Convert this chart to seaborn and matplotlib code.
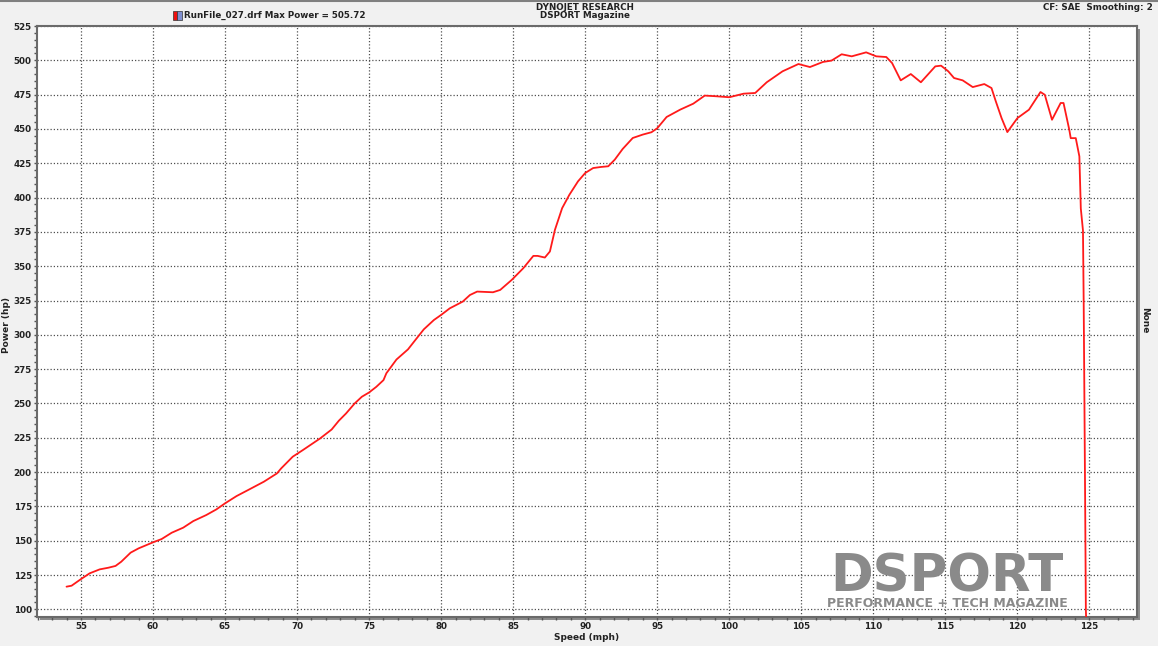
import numpy as np
import pandas as pd
import matplotlib
matplotlib.use("Agg")
import matplotlib.pyplot as plt
import seaborn as sns
from matplotlib.patches import Rectangle
from matplotlib.lines import Line2D
from matplotlib.ticker import MultipleLocator

speed_mph = [54.0, 54.35, 55.0, 55.6, 56.3, 56.9, 57.4, 57.8, 58.45, 59.0,
             60.0, 60.6, 61.3, 62.1, 62.8, 63.7, 64.4, 65.0, 65.8, 66.6,
             67.7, 68.6, 68.9, 69.7, 70.4, 71.6, 72.4, 72.9, 73.4, 74.0,
             74.5, 75.0, 75.5, 76.0, 76.2, 76.9, 77.7, 78.3, 78.8, 79.5,
             80.0, 80.6, 81.5, 82.0, 82.5, 83.6, 84.1, 84.9, 85.7, 86.4,
             86.7, 87.2, 87.55, 87.9, 88.4, 88.9, 89.5, 90.0, 90.55, 91.1,
             91.6, 92.05, 92.6, 93.3, 94.0, 94.6, 95.0, 95.65, 96.6, 97.5,
             98.3, 99.1, 100.0, 101.0, 101.8, 102.6, 103.7, 104.8, 105.6, 106.5,
             107.1, 107.8, 108.5, 109.5, 110.2, 110.9, 111.3, 111.9, 112.6, 113.3,
             114.3, 114.7, 115.2, 115.6, 116.2, 116.9, 117.7, 118.2, 118.5, 118.9,
             119.3, 120.0, 120.8, 121.6, 121.9, 122.4, 123.0, 123.2, 123.6, 123.7,
             124.05, 124.3, 124.4, 124.55, 124.6, 124.65, 124.7, 124.75, 124.78]
power_hp = [116.5, 117.2, 122, 126.2, 129.1, 130.3, 131.6, 134.7, 141.3, 144.4,
            148.8, 151.2, 155.8, 159.5, 164.3, 168.7, 172.8, 177.2, 182.5, 186.9,
            193, 199, 202.7, 211.2, 216, 224.5, 231, 237.4, 242.7, 250,
            254.9, 258, 262.1, 267, 272, 282, 289.4, 297.4, 304, 310.8,
            314.5, 319.3, 324.2, 329, 331.5, 331, 332.7, 340, 348.5, 357.5,
            357.5, 356.3, 360.7, 376.5, 392.3, 402, 411.8, 417.9, 421.5, 422.3,
            422.8, 427.6, 435.4, 443.4, 445.9, 447.6, 450.5, 458.7, 464.1, 468.4,
            474.3, 473.8, 473.1, 475.7, 476.2, 484, 492, 497.3, 495.1, 498.8,
            499.8, 504.4, 502.9, 505.8, 502.9, 502.4, 498, 485.4, 490, 484,
            495.6, 496.1, 492, 487.1, 485.4, 480.5, 482.7, 479.8, 470.1, 457.9,
            447.7, 457.9, 464, 476.9, 474.9, 456.7, 468.9, 468.9, 449.4, 443.3,
            443.3, 430, 392, 376, 323, 252, 180, 100, 90]

x_ticks = [55, 60, 65, 70, 75, 80, 85, 90, 95, 100, 105, 110, 115, 120, 125]
y_ticks = [100, 125, 150, 175, 200, 225, 250, 275, 300, 325, 350, 375, 400,
           425, 450, 475, 500, 525]

df = pd.DataFrame({"Speed (mph)": speed_mph, "Power (hp)": power_hp})

sns.set_theme(style="white")
plt.rcParams['font.family'] = ['DejaVu Sans']

W, H = 1158, 646
fig = plt.figure(figsize=(W / 100, H / 100), dpi=100, facecolor="#f1f1f1")
L, R, T, B = 37, 1137, 26, 617
ax = fig.add_axes([L / W, 1 - B / H, (R - L) / W, (B - T) / H])
ax.set_facecolor("white")

# shadow of the plot frame
shadow = Rectangle(((L + 3) / W, 1 - (B + 3) / H), (R - L) / W, (B - T) / H,
                   transform=fig.transFigure, facecolor="#8a8a8a",
                   edgecolor="none", zorder=-1)
fig.patches.append(shadow)
# header separator line
fig.add_artist(Line2D([0, 1], [1 - 1 / H, 1 - 1 / H], transform=fig.transFigure,
                      color="#808080", lw=1.5))

sns.lineplot(data=df, x="Speed (mph)", y="Power (hp)", ax=ax, sort=False,
             estimator=None, color="#ff1a1a", lw=1.3, zorder=5)

ax.set_xlim(51.95, 128.3)
ax.set_ylim(94.4, 525)
ax.set_xticks(x_ticks)
ax.set_yticks(y_ticks)
ax.xaxis.set_minor_locator(MultipleLocator(1))
ax.yaxis.set_minor_locator(MultipleLocator(5))
ax.grid(True, which="major", color="#505050", linestyle=(0, (1, 1.6)), lw=0.9)
ax.tick_params(axis="both", which="major", length=2.5, width=1, color="#555555",
               labelsize=6.3, pad=1.2, direction="out", bottom=True, left=True)
ax.tick_params(axis="both", which="minor", length=2.5, width=1, color="#555555",
               direction="out", bottom=True, left=True)
for lab in ax.get_xticklabels() + ax.get_yticklabels():
    lab.set_fontweight("bold")
    lab.set_color("#222222")
for s in ax.spines.values():
    s.set_color("#6a6a6a")
    s.set_linewidth(1.5)

ax.set_xlabel("")
ax.set_ylabel("")
fig.text(587 / W, 1 - 638 / H, "Speed (mph)", fontsize=6.5, fontweight="bold",
         ha="center", va="center", color="#222222")
fig.text(7 / W, 1 - 325 / H, "Power (hp)", fontsize=6.5, fontweight="bold",
         rotation=90, ha="center", va="center", color="#222222")

# right label
fig.text(1145 / W, 1 - 320 / H, "None", rotation=270, fontsize=6.5,
         fontweight="bold", ha="center", va="center", color="#222222")

# header
fig.text(585 / W, 1 - 7 / H, "DYNOJET RESEARCH", fontsize=6.3, fontweight="bold",
         ha="center", va="center", color="#222222")
fig.text(585 / W, 1 - 16 / H, "DSPORT Magazine", fontsize=6.3, fontweight="bold",
         ha="center", va="center", color="#222222")
fig.text(1153 / W, 1 - 7 / H, "CF: SAE  Smoothing: 2", fontsize=6.3,
         fontweight="bold", ha="right", va="center", color="#222222")
fig.patches.append(Rectangle((173 / W, 1 - 20 / H), 4 / W, 9 / H,
                             transform=fig.transFigure, facecolor="#ee1111",
                             edgecolor="#333333", lw=0.5))
fig.patches.append(Rectangle((177 / W, 1 - 20 / H), 5 / W, 9 / H,
                             transform=fig.transFigure, facecolor="#7f8fd0",
                             edgecolor="#333333", lw=0.5))
fig.text(184 / W, 1 - 15 / H, "RunFile_027.drf Max Power = 505.72", fontsize=6.3,
         fontweight="bold", ha="left", va="center", color="#222222")

# watermark logo
fig.text(947 / W, 1 - 592 / H, "DSPORT", fontsize=37, fontweight="bold",
         ha="center", va="baseline", color="#8a8a8a", zorder=4)
fig.text(947 / W, 1 - 607 / H, "PERFORMANCE + TECH MAGAZINE", fontsize=9,
         fontweight="bold", ha="center", va="baseline", color="#8a8a8a", zorder=4)

fig.savefig("out.png", dpi=100, facecolor=fig.get_facecolor())
